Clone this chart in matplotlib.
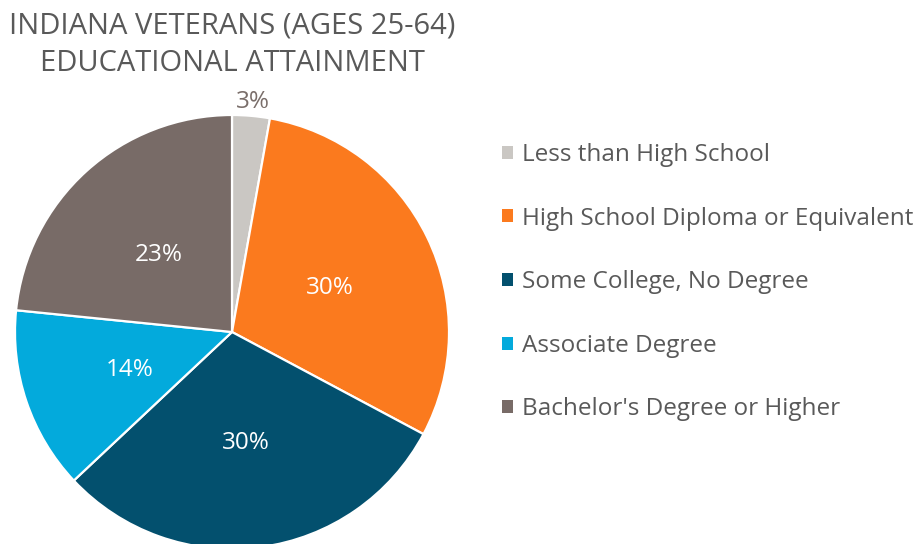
import matplotlib
matplotlib.use("Agg")
import matplotlib.pyplot as plt
import numpy as np

categories = ["Less than High School", "High School Diploma or Equivalent",
              "Some College, No Degree", "Associate Degree", "Bachelor's Degree or Higher"]
values = [2.8, 30.0, 30.2, 13.6, 23.4]
pct_labels = ["3%", "30%", "30%", "14%", "23%"]
colors = ["#CAC7C3", "#FB7A1E", "#03506E", "#03AADC", "#786B67"]

plt.rcParams['font.family'] = ['Open Sans', 'DejaVu Sans']
W, H = 921, 544
fig = plt.figure(figsize=(W/100, H/100), dpi=100)

cx, cy, r = 232, 332, 217
ax = fig.add_axes([(cx - r)/W, (H - cy - r)/H, 2*r/W, 2*r/H])
wedges, _ = ax.pie(values, colors=colors, startangle=90, counterclock=False,
                   radius=1, wedgeprops=dict(edgecolor="white", linewidth=1.6))
ax.set_xlim(-1, 1); ax.set_ylim(-1, 1)
ax.set_aspect('equal')
ax.axis('off')

total = sum(values)
cum = 0
for v, lab in zip(values, pct_labels):
    mid = 90 - (cum + v/2)/total*360
    cum += v
    th = np.deg2rad(mid)
    if v < 5:
        d, col = 1.08, "#7A6E6A"
    else:
        d, col = 0.5, "white"
    ax.text(d*np.cos(th), d*np.sin(th) - 0.015, lab, ha='center', va='center',
            fontsize=17.5, color=col)

fig.text(232/W, 1 - 45/H, "INDIANA VETERANS (AGES 25-64)\nEDUCATIONAL ATTAINMENT",
         ha='center', va='center', fontsize=21, color="#595959", linespacing=1.4)

leg = fig.legend(wedges, categories, loc='upper left',
                 bbox_to_anchor=(502/W, 1 - 143/H), frameon=False,
                 fontsize=17.5, labelcolor="#595959", handlelength=0.45, handleheight=0.45,
                 handletextpad=0.37, labelspacing=1.63, borderpad=0, borderaxespad=0)
for h in leg.legend_handles:
    h.set_edgecolor('none')

fig.savefig("out.png", dpi=100)
